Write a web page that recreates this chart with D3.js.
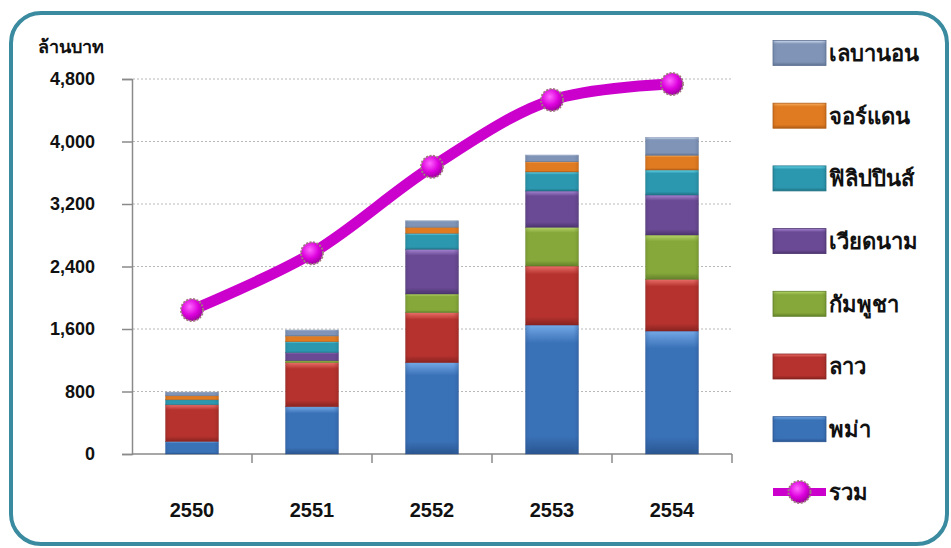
<!DOCTYPE html>
<html><head><meta charset="utf-8">
<script src="https://cdn.jsdelivr.net/npm/d3@7"></script>
<style>html,body{margin:0;padding:0;background:#fff;}svg{display:block;}</style>
</head><body>
<svg id="chart" width="951" height="548"></svg>
<script>
const years = ["2550","2551","2552","2553","2554"];
const seriesNames = ["พม่า","ลาว","กัมพูชา","เวียดนาม","ฟิลิปปินส์","จอร์แดน","เลบานอน"];
const myanmar   = [160, 605, 1169, 1651, 1574];
const laos      = [470, 564, 640, 755, 662];
const cambodia  = [0, 25, 239, 496, 567];
const vietnam   = [0, 103, 572, 464, 512];
const philippines = [64, 140, 205, 244, 320];
const jordan    = [51, 73, 77, 131, 188];
const lebanon   = [47, 77, 84, 86, 231];
const totalName = "รวม";
const total     = [1843, 2570, 3677, 4531, 4736];
const yTicks    = [0, 800, 1600, 2400, 3200, 4000, 4800];
const yTitle    = "ล้านบาท";

const seriesValues = [myanmar, laos, cambodia, vietnam, philippines, jordan, lebanon];
const colors = [
  {base:"#3a72b8", light:"#74a8e6", dark:"#2a5590"},
  {base:"#b5322e", light:"#ea6e69", dark:"#872320"},
  {base:"#86a83a", light:"#b6d46a", dark:"#62802a"},
  {base:"#6a4a94", light:"#a584d2", dark:"#4c346e"},
  {base:"#2c98b0", light:"#66d6ea", dark:"#1f7285"},
  {base:"#e07b22", light:"#f7b060", dark:"#b05c14"},
  {base:"#7f94b6", light:"#cfdcf0", dark:"#5d7092"}
];

const svg = d3.select("#chart");
const font = "'Liberation Sans', Arial, 'DejaVu Sans', sans-serif";

// frame
svg.append("rect").attr("x",11).attr("y",13).attr("width",936).attr("height",531)
  .attr("rx",30).attr("ry",30).attr("fill","#fff")
  .attr("stroke","#3b8ba0").attr("stroke-width",4);

// gradients
const defs = svg.append("defs");
colors.forEach((c,i)=>{
  const g = defs.append("linearGradient").attr("id","g"+i)
    .attr("x1","0").attr("y1","0").attr("x2","0").attr("y2","1");
  g.append("stop").attr("offset","0%").attr("stop-color",c.light);
  g.append("stop").attr("offset","14%").attr("stop-color",c.base);
  g.append("stop").attr("offset","86%").attr("stop-color",c.base);
  g.append("stop").attr("offset","100%").attr("stop-color",c.dark);
  const h = defs.append("linearGradient").attr("id","h"+i)
    .attr("x1","0").attr("y1","0").attr("x2","1").attr("y2","0");
  h.append("stop").attr("offset","0%").attr("stop-color",c.dark).attr("stop-opacity",0.35);
  h.append("stop").attr("offset","10%").attr("stop-color",c.base).attr("stop-opacity",0);
  h.append("stop").attr("offset","90%").attr("stop-color",c.base).attr("stop-opacity",0);
  h.append("stop").attr("offset","100%").attr("stop-color",c.dark).attr("stop-opacity",0.45);
});
const mg = defs.append("radialGradient").attr("id","mk").attr("cx","40%").attr("cy","35%").attr("r","65%");
mg.append("stop").attr("offset","0%").attr("stop-color","#ff66ff");
mg.append("stop").attr("offset","60%").attr("stop-color","#dd00dd");
mg.append("stop").attr("offset","100%").attr("stop-color","#a000a0");

const x = d3.scaleBand().domain(years).range([132,732]).paddingInner(0.56).paddingOuter(0.28);
const y = d3.scaleLinear().domain([0,4800]).range([454,79]);

// grid
svg.append("g").selectAll("line").data(yTicks.filter(t=>t>0)).join("line")
  .attr("x1",133).attr("x2",732).attr("y1",d=>y(d)).attr("y2",d=>y(d))
  .attr("stroke","#b8b8b8").attr("stroke-width",1).attr("stroke-dasharray","2,2");

// y axis
const yAxis = svg.append("g").attr("transform","translate(132,0)")
  .call(d3.axisLeft(y).tickValues(yTicks).tickSize(10).tickPadding(27).tickFormat(d3.format(",")));
yAxis.select(".domain").attr("stroke","#8a8a8a").attr("stroke-width",1.5);
yAxis.selectAll(".tick line").attr("stroke","#8a8a8a").attr("stroke-width",1.5);
yAxis.selectAll("text").attr("font-family",font).attr("font-weight","bold")
  .attr("font-size",18).attr("fill","#111");

// x axis
const xAxis = svg.append("g").attr("transform","translate(0,454)")
  .call(d3.axisBottom(x).tickSize(0).tickPadding(49));
xAxis.select(".domain").attr("stroke","#8a8a8a").attr("stroke-width",1.5).attr("d","M132,0H732");
xAxis.selectAll("text").attr("font-family","'Liberation Sans Narrow', "+font).attr("font-weight","bold")
  .attr("font-size",20).attr("fill","#111");
const bounds = years.map(d=>x(d)+x.bandwidth()/2+x.step()/2);
xAxis.append("g").selectAll("line").data(bounds).join("line")
  .attr("x1",d=>d).attr("x2",d=>d).attr("y1",0).attr("y2",9)
  .attr("stroke","#8a8a8a").attr("stroke-width",1.5);

// stacked bars
const rows = years.map((yr,i)=>{ const o={year:yr}; seriesNames.forEach((s,j)=>o[s]=seriesValues[j][i]); return o; });
const stack = d3.stack().keys(seriesNames)(rows);
const barG = svg.append("g");
stack.forEach((layer,i)=>{
  const g = barG.append("g");
  layer.forEach(d=>{
    const h = y(d[0])-y(d[1]);
    if(h<=0) return;
    g.append("rect").attr("x",x(d.data.year)).attr("y",y(d[1]))
      .attr("width",x.bandwidth()).attr("height",h)
      .attr("fill","url(#g"+i+")").attr("stroke",colors[i].dark).attr("stroke-width",0.6).attr("stroke-opacity",0.6);
    g.append("rect").attr("x",x(d.data.year)).attr("y",y(d[1]))
      .attr("width",x.bandwidth()).attr("height",h)
      .attr("fill","url(#h"+i+")");
  });
});

// total line
const cx = d=>x(d)+x.bandwidth()/2;
const line = d3.line().x((d,i)=>cx(years[i])).y(d=>y(d)).curve(d3.curveCatmullRom.alpha(0.5));
svg.append("path").datum(total).attr("d",line).attr("fill","none")
  .attr("stroke","#cc00cc").attr("stroke-width",11).attr("stroke-linecap","round");
svg.append("g").selectAll("circle").data(total).join("circle")
  .attr("cx",(d,i)=>cx(years[i])).attr("cy",d=>y(d)).attr("r",11)
  .attr("fill","url(#mk)").attr("stroke","#a07a80").attr("stroke-width",2).attr("stroke-dasharray","2,1.5");

// y title
svg.append("text").attr("x",38).attr("y",53).text(yTitle)
  .attr("font-family",font).attr("font-weight","bold").attr("font-size",18).attr("fill","#111");

// legend
const legendItems = [6,5,4,3,2,1,0];
const lg = svg.append("g");
legendItems.forEach((si,k)=>{
  const cy = 53 + k*62.7;
  lg.append("rect").attr("x",773).attr("y",cy-12.5).attr("width",53).attr("height",25)
    .attr("fill","url(#g"+si+")").attr("stroke",colors[si].dark).attr("stroke-width",0.8);
  lg.append("rect").attr("x",773).attr("y",cy-12.5).attr("width",53).attr("height",25)
    .attr("fill","url(#h"+si+")");
  lg.append("text").attr("x",829).attr("y",cy).attr("dy","0.36em").text(seriesNames[si])
    .attr("font-family",font).attr("font-weight","bold").attr("font-size",22).attr("fill","#111");
});
const ly = 53 + 7*62.7;
lg.append("line").attr("x1",773).attr("x2",826).attr("y1",ly).attr("y2",ly)
  .attr("stroke","#cc00cc").attr("stroke-width",8);
lg.append("circle").attr("cx",799.5).attr("cy",ly).attr("r",11)
  .attr("fill","url(#mk)").attr("stroke","#a07a80").attr("stroke-width",2).attr("stroke-dasharray","2,1.5");
lg.append("text").attr("x",829).attr("y",ly).attr("dy","0.36em").text(totalName)
  .attr("font-family",font).attr("font-weight","bold").attr("font-size",22).attr("fill","#111");
</script>
</body></html>
